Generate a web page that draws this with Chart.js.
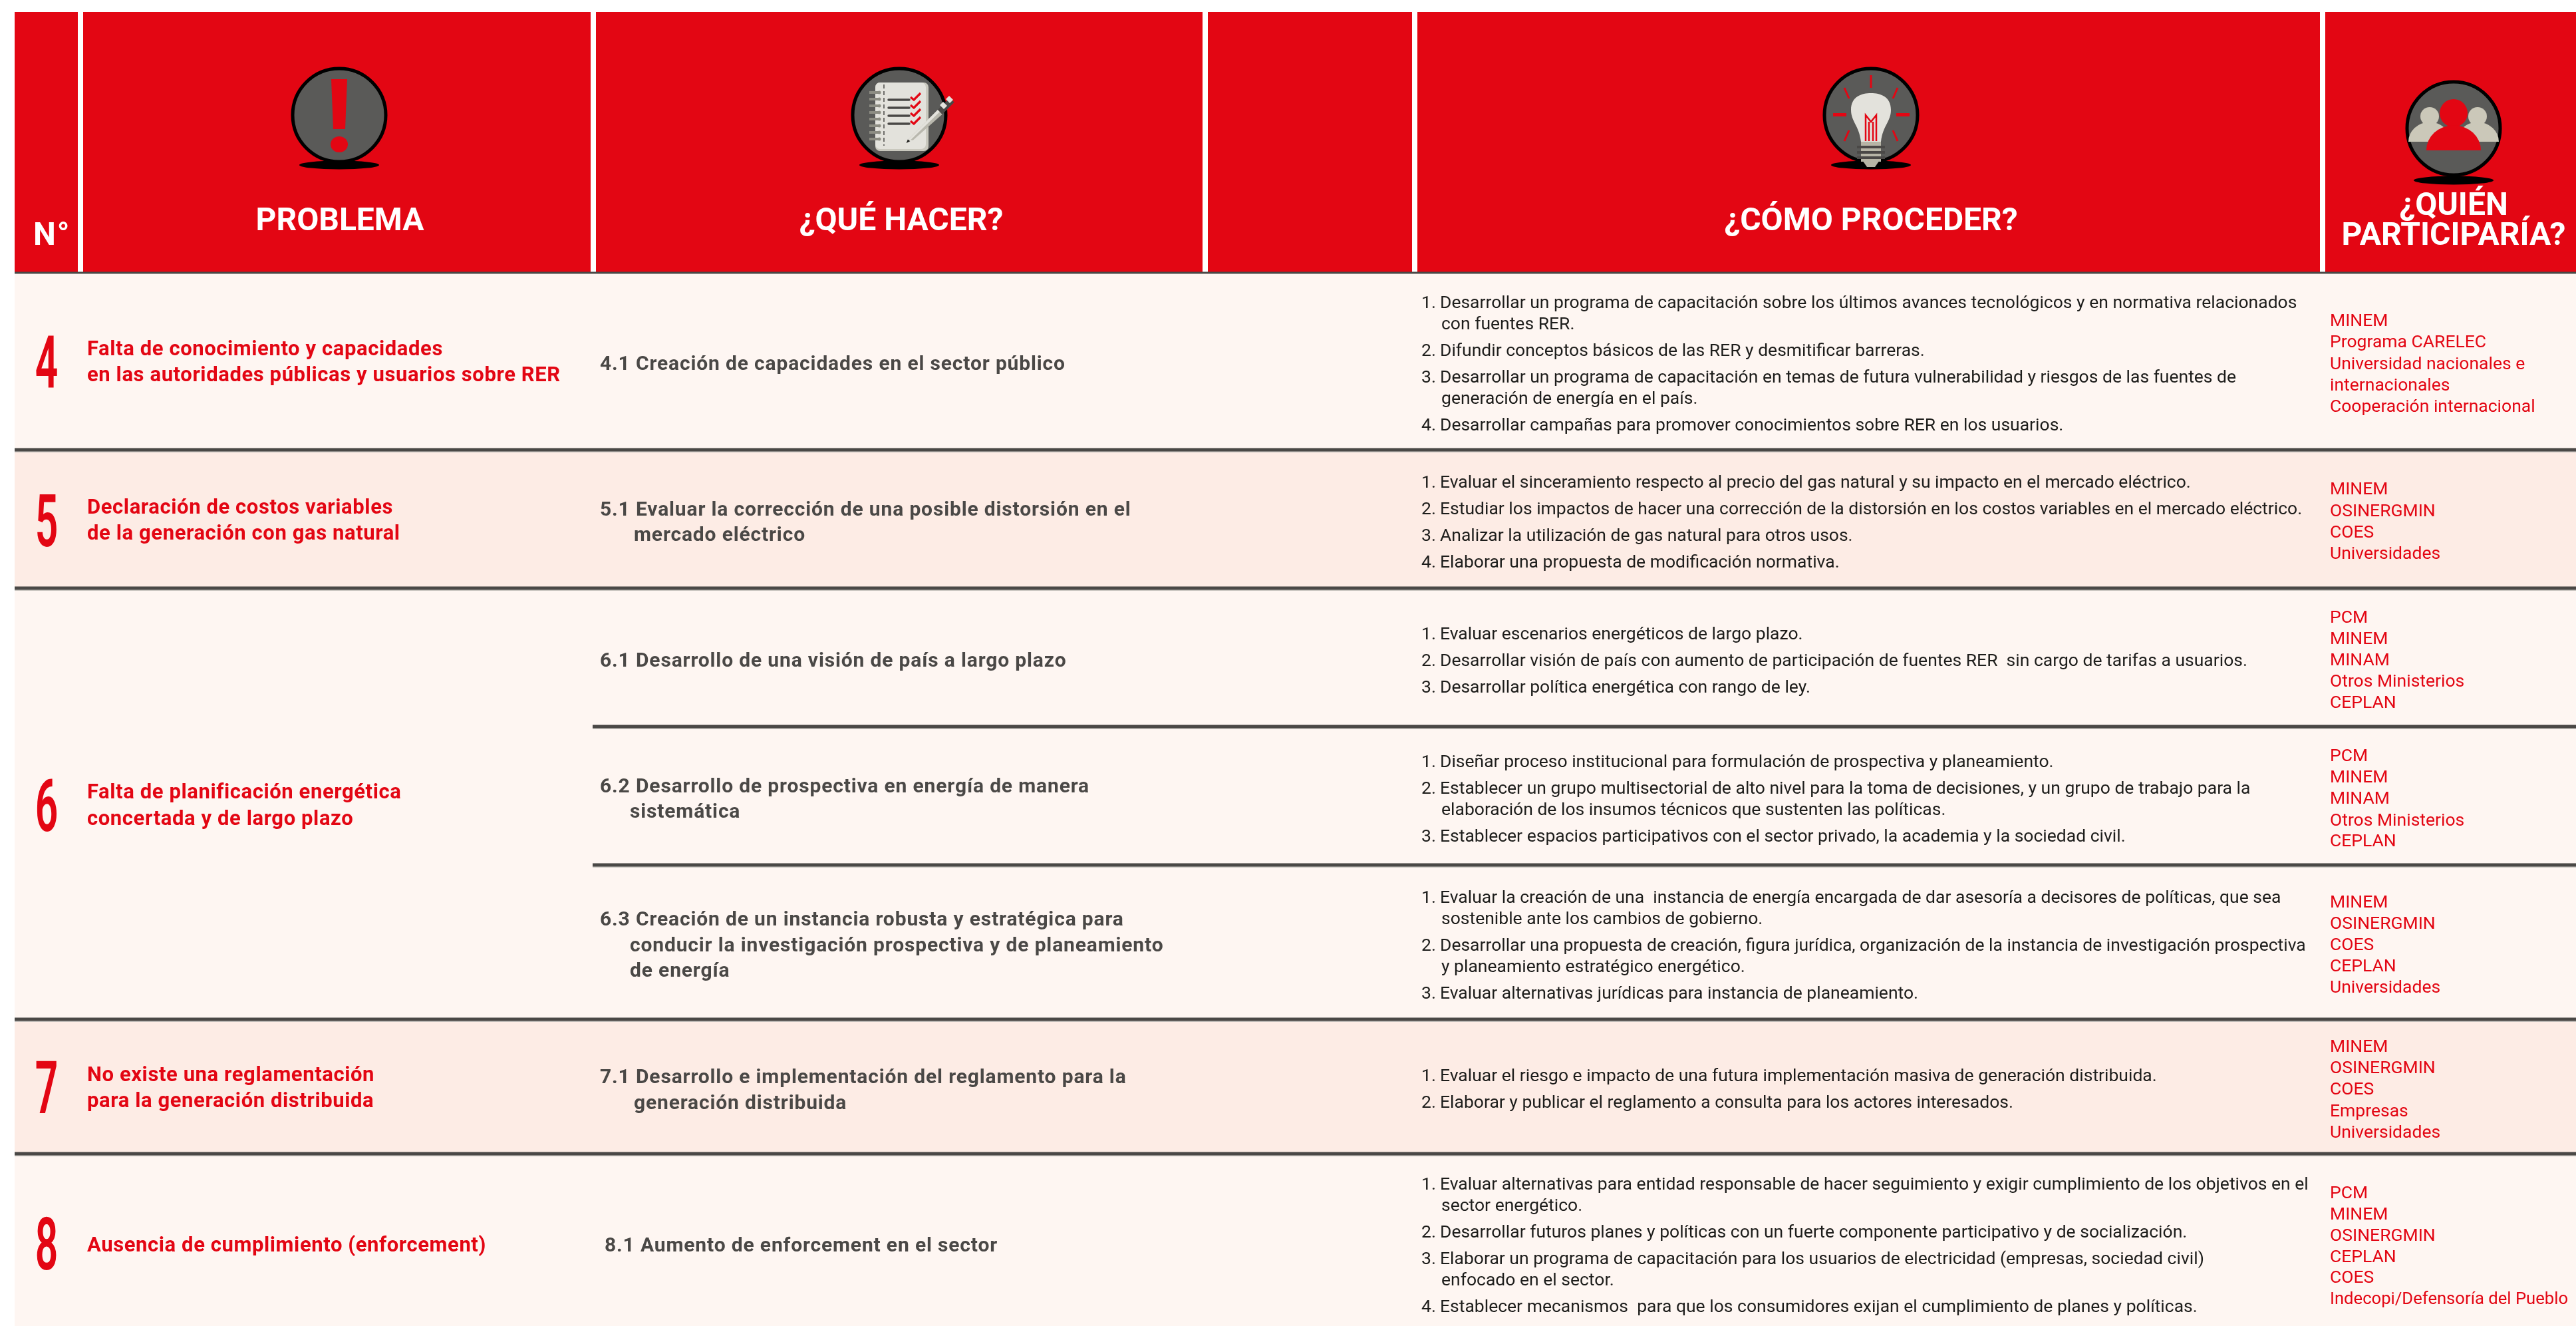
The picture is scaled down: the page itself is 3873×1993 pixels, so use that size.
<!DOCTYPE html>
<html lang="es">
<head>
<meta charset="utf-8">
<title>Problema, qué hacer, cómo proceder</title>
<script src="https://cdn.jsdelivr.net/npm/chart.js@4"></script>
<style>
  html, body { margin: 0; padding: 0; background: #ffffff; }
  canvas { display: block; }
</style>
</head>
<body>
<canvas id="chart" width="3873" height="1993"></canvas>
<script>
// table text
const headers = ['PROBLEMA', '¿QUÉ HACER?', '¿CÓMO PROCEDER?'];
const headerLast = ['¿QUIÉN', 'PARTICIPARÍA?'];
const rowNumbers = ['4', '5', '6', '7', '8'];
const problems = [
  ['Falta de conocimiento y capacidades', 'en las autoridades públicas y usuarios sobre RER'],
  ['Declaración de costos variables', 'de la generación con gas natural'],
  ['Falta de planificación energética', 'concertada y de largo plazo'],
  ['No existe una reglamentación', 'para la generación distribuida'],
  ['Ausencia de cumplimiento (enforcement)']
];
const actions = [
  ['4.1 Creación de capacidades en el sector público'],
  ['5.1 Evaluar la corrección de una posible distorsión en el', 'mercado eléctrico'],
  ['6.1 Desarrollo de una visión de país a largo plazo'],
  ['6.2 Desarrollo de prospectiva en energía de manera', 'sistemática'],
  ['6.3 Creación de un instancia robusta y estratégica para', 'conducir la investigación prospectiva y de planeamiento', 'de energía'],
  ['7.1 Desarrollo e implementación del reglamento para la', 'generación distribuida'],
  ['8.1 Aumento de enforcement en el sector']
];
const steps = [
  ['1.|Desarrollar un programa de capacitación sobre los últimos avances tecnológicos y en normativa relacionados', '|con fuentes RER.',
   '2.|Difundir conceptos básicos de las RER y desmitificar barreras.',
   '3.|Desarrollar un programa de capacitación en temas de futura vulnerabilidad y riesgos de las fuentes de', '|generación de energía en el país.',
   '4.|Desarrollar campañas para promover conocimientos sobre RER en los usuarios.'],
  ['1.|Evaluar el sinceramiento respecto al precio del gas natural y su impacto en el mercado eléctrico.',
   '2.|Estudiar los impactos de hacer una corrección de la distorsión en los costos variables en el mercado eléctrico.',
   '3.|Analizar la utilización de gas natural para otros usos.',
   '4.|Elaborar una propuesta de modificación normativa.'],
  ['1.|Evaluar escenarios energéticos de largo plazo.',
   '2.|Desarrollar visión de país con aumento de participación de fuentes RER  sin cargo de tarifas a usuarios.',
   '3.|Desarrollar política energética con rango de ley.'],
  ['1.|Diseñar proceso institucional para formulación de prospectiva y planeamiento.',
   '2.|Establecer un grupo multisectorial de alto nivel para la toma de decisiones, y un grupo de trabajo para la', '|elaboración de los insumos técnicos que sustenten las políticas.',
   '3.|Establecer espacios participativos con el sector privado, la academia y la sociedad civil.'],
  ['1.|Evaluar la creación de una  instancia de energía encargada de dar asesoría a decisores de políticas, que sea', '|sostenible ante los cambios de gobierno.',
   '2.|Desarrollar una propuesta de creación, figura jurídica, organización de la instancia de investigación prospectiva', '|y planeamiento estratégico energético.',
   '3.|Evaluar alternativas jurídicas para instancia de planeamiento.'],
  ['1.|Evaluar el riesgo e impacto de una futura implementación masiva de generación distribuida.',
   '2.|Elaborar y publicar el reglamento a consulta para los actores interesados.'],
  ['1.|Evaluar alternativas para entidad responsable de hacer seguimiento y exigir cumplimiento de los objetivos en el', '|sector energético.',
   '2.|Desarrollar futuros planes y políticas con un fuerte componente participativo y de socialización.',
   '3.|Elaborar un programa de capacitación para los usuarios de electricidad (empresas, sociedad civil)', '|enfocado en el sector.',
   '4.|Establecer mecanismos  para que los consumidores exijan el cumplimiento de planes y políticas.']
];
const participants = [
  ['MINEM', 'Programa CARELEC', 'Universidad nacionales e', 'internacionales', 'Cooperación internacional'],
  ['MINEM', 'OSINERGMIN', 'COES', 'Universidades'],
  ['PCM', 'MINEM', 'MINAM', 'Otros Ministerios', 'CEPLAN'],
  ['PCM', 'MINEM', 'MINAM', 'Otros Ministerios', 'CEPLAN'],
  ['MINEM', 'OSINERGMIN', 'COES', 'CEPLAN', 'Universidades'],
  ['MINEM', 'OSINERGMIN', 'COES', 'Empresas', 'Universidades'],
  ['PCM', 'MINEM', 'OSINERGMIN', 'CEPLAN', 'COES', 'Indecopi/Defensoría del Pueblo']
];

// table grid, in picture units
const tableLeft = 22;
const tableRight = 3873;
const headerTop = 18;
const headerBottom = 410;
const rowEdges = [410, 676, 884, 1532, 1734, 1993];
const rowFills = ['#fef6f2', '#fdece5', '#fef6f2', '#fdece5', '#fef6f2'];
const subRowEdges = [1092, 1300];
const subRowLeft = 891;
const headerGaps = [121, 892, 1812, 2127, 3492];

// baselines
const numberBase = [582, 821, 1249, 1673, 1908];
const problemBase = [[534, 573], [772, 811], [1200, 1240], [1625, 1664], [1881]];
const actionBase = [[556], [775, 813], [1002], [1191, 1229], [1391, 1430, 1468], [1628, 1667], [1881]];
const actionIndent = [0, 953, 0, 947, 947, 953, 0];
const actionLeft = [902, 902, 902, 902, 902, 902, 909];
const stepBase = [
  [463, 495, 535, 575, 607, 647],
  [733, 773, 813, 853],
  [961, 1001, 1041],
  [1153, 1193, 1225, 1265],
  [1357, 1389, 1429, 1461, 1501],
  [1625, 1665],
  [1788, 1820, 1860, 1900, 1932, 1972]
];
const partBase = [
  [490, 522, 555, 587, 619],
  [743, 776, 808, 840],
  [936, 968, 1000, 1032, 1064],
  [1144, 1176, 1208, 1241, 1272],
  [1364, 1396, 1428, 1460, 1492],
  [1581, 1613, 1645, 1678, 1710],
  [1801, 1833, 1865, 1897, 1928, 1960]
];

const RED = '#e30613';
const DARK = '#4a4846';
const INK = '#1d1d1b';
const GREY = '#5a5a58';

function band(top, bottom, color) {
  return {
    data: [{ x: tableLeft, y: top }, { x: tableRight, y: top }],
    showLine: true, pointRadius: 0, borderWidth: 0,
    borderColor: color, backgroundColor: color,
    fill: { value: bottom }
  };
}
function rule(x0, y0, x1, y1, color, width) {
  return {
    data: [{ x: x0, y: y0 }, { x: x1, y: y1 }],
    showLine: true, pointRadius: 0, borderWidth: width,
    borderColor: color, borderCapStyle: 'butt', fill: false
  };
}

const datasets = [];
datasets.push(band(headerTop, headerBottom, RED));
rowFills.forEach((c, i) => datasets.push(band(rowEdges[i], rowEdges[i + 1], c)));
headerGaps.forEach(x => datasets.push(rule(x, headerTop, x, headerBottom, '#ffffff', 8)));
datasets.push(rule(tableLeft, headerBottom, tableRight, headerBottom, DARK, 3));
rowEdges.slice(1, -1).forEach(y => {
  datasets.push(rule(tableLeft, y + 1, tableRight, y + 1, '#c9c5c0', 6));
  datasets.push(rule(tableLeft, y, tableRight, y, DARK, 5));
});
subRowEdges.forEach(y => {
  datasets.push(rule(subRowLeft, y + 1, tableRight, y + 1, '#c9c5c0', 6));
  datasets.push(rule(subRowLeft, y, tableRight, y, DARK, 5));
});
// chart.js paints the first dataset last, so flip to keep rules over bands
datasets.reverse();

function iconBase(ctx, cx, cy, shadowY, xs, ys) {
  const px = xs.getPixelForValue(cx);
  ctx.save();
  ctx.fillStyle = '#000000';
  ctx.beginPath();
  ctx.ellipse(px, ys.getPixelForValue(shadowY), 60, 6.5, 0, 0, Math.PI * 2);
  ctx.fill();
  ctx.fillStyle = GREY;
  ctx.strokeStyle = '#000000';
  ctx.lineWidth = 5;
  ctx.beginPath();
  ctx.arc(px, ys.getPixelForValue(cy), 70, 0, Math.PI * 2);
  ctx.fill();
  ctx.stroke();
  ctx.translate(px, ys.getPixelForValue(cy));
}

function poly(ctx, pts, color) {
  ctx.fillStyle = color;
  ctx.beginPath();
  pts.forEach((p, i) => i ? ctx.lineTo(p[0], p[1]) : ctx.moveTo(p[0], p[1]));
  ctx.closePath();
  ctx.fill();
}

function alertIcon(ctx, xs, ys) {
  iconBase(ctx, 510, 173, 248, xs, ys);
  poly(ctx, [[-12, -54], [12, -54], [9, 21], [-9, 21]], RED);
  ctx.fillStyle = RED;
  ctx.beginPath();
  ctx.ellipse(0, 44, 13, 12, 0, 0, Math.PI * 2);
  ctx.fill();
  ctx.restore();
}

function notebookIcon(ctx, xs, ys) {
  iconBase(ctx, 1352, 173, 248, xs, ys);
  ctx.fillStyle = '#c9c8be';
  ctx.beginPath();
  ctx.roundRect(-36, -49, 80, 103, 7);
  ctx.fill();
  ctx.fillStyle = '#e3e2dc';
  ctx.beginPath();
  ctx.roundRect(-36, -49, 76, 100, 7);
  ctx.fill();
  for (let i = 0; i < 8; i++) {
    ctx.fillStyle = '#8c8c82';
    ctx.fillRect(-45, -36 + i * 10, 16, 4);
    ctx.beginPath();
    ctx.arc(-30, -34 + i * 10, 2.5, 0, Math.PI * 2);
    ctx.fill();
  }
  ctx.strokeStyle = DARK;
  ctx.lineWidth = 1.5;
  ctx.setLineDash([6, 4]);
  ctx.beginPath();
  ctx.moveTo(-23, -46);
  ctx.lineTo(-23, 46);
  ctx.stroke();
  ctx.setLineDash([]);
  for (let i = 0; i < 4; i++) {
    const y = -23 + i * 12;
    ctx.strokeStyle = DARK;
    ctx.lineWidth = 3.5;
    ctx.lineCap = 'round';
    ctx.beginPath();
    ctx.moveTo(-16, y);
    ctx.lineTo(15, y);
    ctx.stroke();
    ctx.strokeStyle = RED;
    ctx.lineWidth = 3.2;
    ctx.lineCap = 'butt';
    ctx.beginPath();
    ctx.moveTo(17, y - 4);
    ctx.lineTo(22, y);
    ctx.lineTo(32, y - 10);
    ctx.stroke();
  }
  poly(ctx, [[10.7, 42], [13, 36.3], [16.3, 39.3]], '#1d1d1b');
  poly(ctx, [[13, 37], [58, -8], [64.7, -1.3], [20.7, 37.7]], '#b9b8ae');
  poly(ctx, [[13, 37], [58, -8], [61, -5], [17, 37.5]], '#e3e2dc');
  poly(ctx, [[58, -8], [76, -26], [82.7, -19.3], [64.7, -1.3]], DARK);
  poly(ctx, [[61, -15], [66, -20], [72, -14], [67, -9]], '#e3e2dc');
  poly(ctx, [[70, -24], [75, -29], [81, -23], [76, -18]], '#e3e2dc');
  ctx.restore();
}

function bulbIcon(ctx, xs, ys) {
  iconBase(ctx, 2813, 173, 248, xs, ys);
  ctx.strokeStyle = RED;
  ctx.lineWidth = 3;
  [[0, -60, 0, -41], [-40, -41, -33, -25], [40, -41, 33, -25], [-40, 39, -33, 23], [40, 39, 33, 23]].forEach(r => {
    ctx.beginPath();
    ctx.moveTo(r[0], r[1]);
    ctx.lineTo(r[2], r[3]);
    ctx.stroke();
  });
  ctx.fillStyle = RED;
  ctx.fillRect(-57, -3, 20, 5);
  ctx.fillRect(38, -3, 20, 5);
  ctx.fillStyle = '#e3e2dc';
  ctx.beginPath();
  ctx.moveTo(-15, 40);
  ctx.bezierCurveTo(-18, 15, -30, 10, -30, -8);
  ctx.bezierCurveTo(-30, -28, -14, -33, 0, -33);
  ctx.bezierCurveTo(14, -33, 30, -28, 30, -8);
  ctx.bezierCurveTo(30, 10, 18, 15, 15, 40);
  ctx.closePath();
  ctx.fill();
  ctx.strokeStyle = RED;
  ctx.lineWidth = 2.5;
  ctx.beginPath();
  ctx.moveTo(-8, 39);
  ctx.lineTo(-8, 0);
  ctx.lineTo(0, 10);
  ctx.lineTo(8, 0);
  ctx.lineTo(8, 39);
  ctx.moveTo(-3, 39);
  ctx.lineTo(-3, 10);
  ctx.moveTo(3, 39);
  ctx.lineTo(3, 10);
  ctx.stroke();
  ctx.fillStyle = '#b7b5a6';
  ctx.fillRect(-15, 40, 30, 30);
  poly(ctx, [[-15, 65], [15, 65], [6, 78], [-6, 78]], '#b7b5a6');
  ctx.fillStyle = DARK;
  [46, 54, 62].forEach(y => ctx.fillRect(-21, y, 42, 4));
  ctx.restore();
}

function peopleIcon(ctx, xs, ys) {
  iconBase(ctx, 3689, 193, 271, xs, ys);
  const bust = (cx, hy, hr, by, br, color) => {
    ctx.fillStyle = color;
    ctx.beginPath();
    ctx.arc(cx, hy, hr, 0, Math.PI * 2);
    ctx.fill();
    ctx.beginPath();
    ctx.ellipse(cx, by, br, br * 0.92, 0, Math.PI, 0);
    ctx.closePath();
    ctx.fill();
  };
  bust(-36, -18, 14, 20, 32, '#cbc8b9');
  bust(36, -18, 14, 20, 32, '#cbc8b9');
  bust(0, -23, 21, 33, 41, RED);
  ctx.restore();
}

function put(ctx, text, x, y, font, color, spacing, maxWidth) {
  ctx.font = font;
  ctx.fillStyle = color;
  ctx.letterSpacing = (spacing || 0) + 'px';
  if (maxWidth) ctx.fillText(text, x, y, maxWidth);
  else ctx.fillText(text, x, y);
}

const tableText = {
  id: 'tableText',
  afterDatasetsDraw(chart) {
    const ctx = chart.ctx;
    const xs = chart.scales.x;
    const ys = chart.scales.y;
    const X = v => xs.getPixelForValue(v);
    const Y = v => ys.getPixelForValue(v);
    const headFont = '700 48px Roboto';

    alertIcon(ctx, xs, ys);
    notebookIcon(ctx, xs, ys);
    bulbIcon(ctx, xs, ys);
    peopleIcon(ctx, xs, ys);

    ctx.save();
    ctx.textBaseline = 'alphabetic';
    ctx.textAlign = 'left';
    put(ctx, 'N°', X(50), Y(368), headFont, '#ffffff', 2);

    ctx.textAlign = 'center';
    [511, 1355, 2813].forEach((c, i) => put(ctx, headers[i], X(c), Y(346), headFont, '#ffffff', 0));
    put(ctx, headerLast[0], X(3689), Y(323), headFont, '#ffffff');
    put(ctx, headerLast[1], X(3689), Y(368), headFont, '#ffffff');

    // tall narrow row numbers
    rowNumbers.forEach((n, i) => {
      ctx.save();
      ctx.translate(X(70), Y(numberBase[i]));
      ctx.scale(0.55, 1);
      put(ctx, n, 0, 0, '600 110px Roboto', RED);
      ctx.restore();
    });

    ctx.textAlign = 'left';
    problems.forEach((lines, i) => {
      lines.forEach((t, j) => put(ctx, t, X(131), Y(problemBase[i][j]), '700 31px Roboto', RED, 0.6));
    });
    actions.forEach((lines, i) => {
      lines.forEach((t, j) => {
        const left = j ? actionIndent[i] : actionLeft[i];
        put(ctx, t, X(left), Y(actionBase[i][j]), '700 30px Roboto', DARK, 0.85);
      });
    });
    steps.forEach((lines, i) => {
      lines.forEach((t, j) => {
        const parts = t.split('|');
        if (parts[0]) put(ctx, parts[0], X(2137), Y(stepBase[i][j]), '400 26.5px Roboto', INK);
        put(ctx, parts[1], X(parts[0] ? 2165 : 2167), Y(stepBase[i][j]), '400 26.5px Roboto', INK);
      });
    });
    participants.forEach((lines, i) => {
      lines.forEach((t, j) => put(ctx, t, X(3503), Y(partBase[i][j]), '400 26.5px Roboto', RED, 0, 358));
    });
    ctx.restore();
  }
};

new Chart(document.getElementById('chart'), {
  type: 'scatter',
  data: { datasets: datasets },
  plugins: [tableText],
  options: {
    responsive: false,
    animation: false,
    layout: { padding: 0 },
    plugins: { legend: { display: false }, tooltip: { enabled: false } },
    scales: {
      x: { type: 'linear', min: 0, max: 3873, display: false },
      y: { type: 'linear', min: 0, max: 1993, reverse: true, display: false }
    }
  }
});
</script>
</body>
</html>
